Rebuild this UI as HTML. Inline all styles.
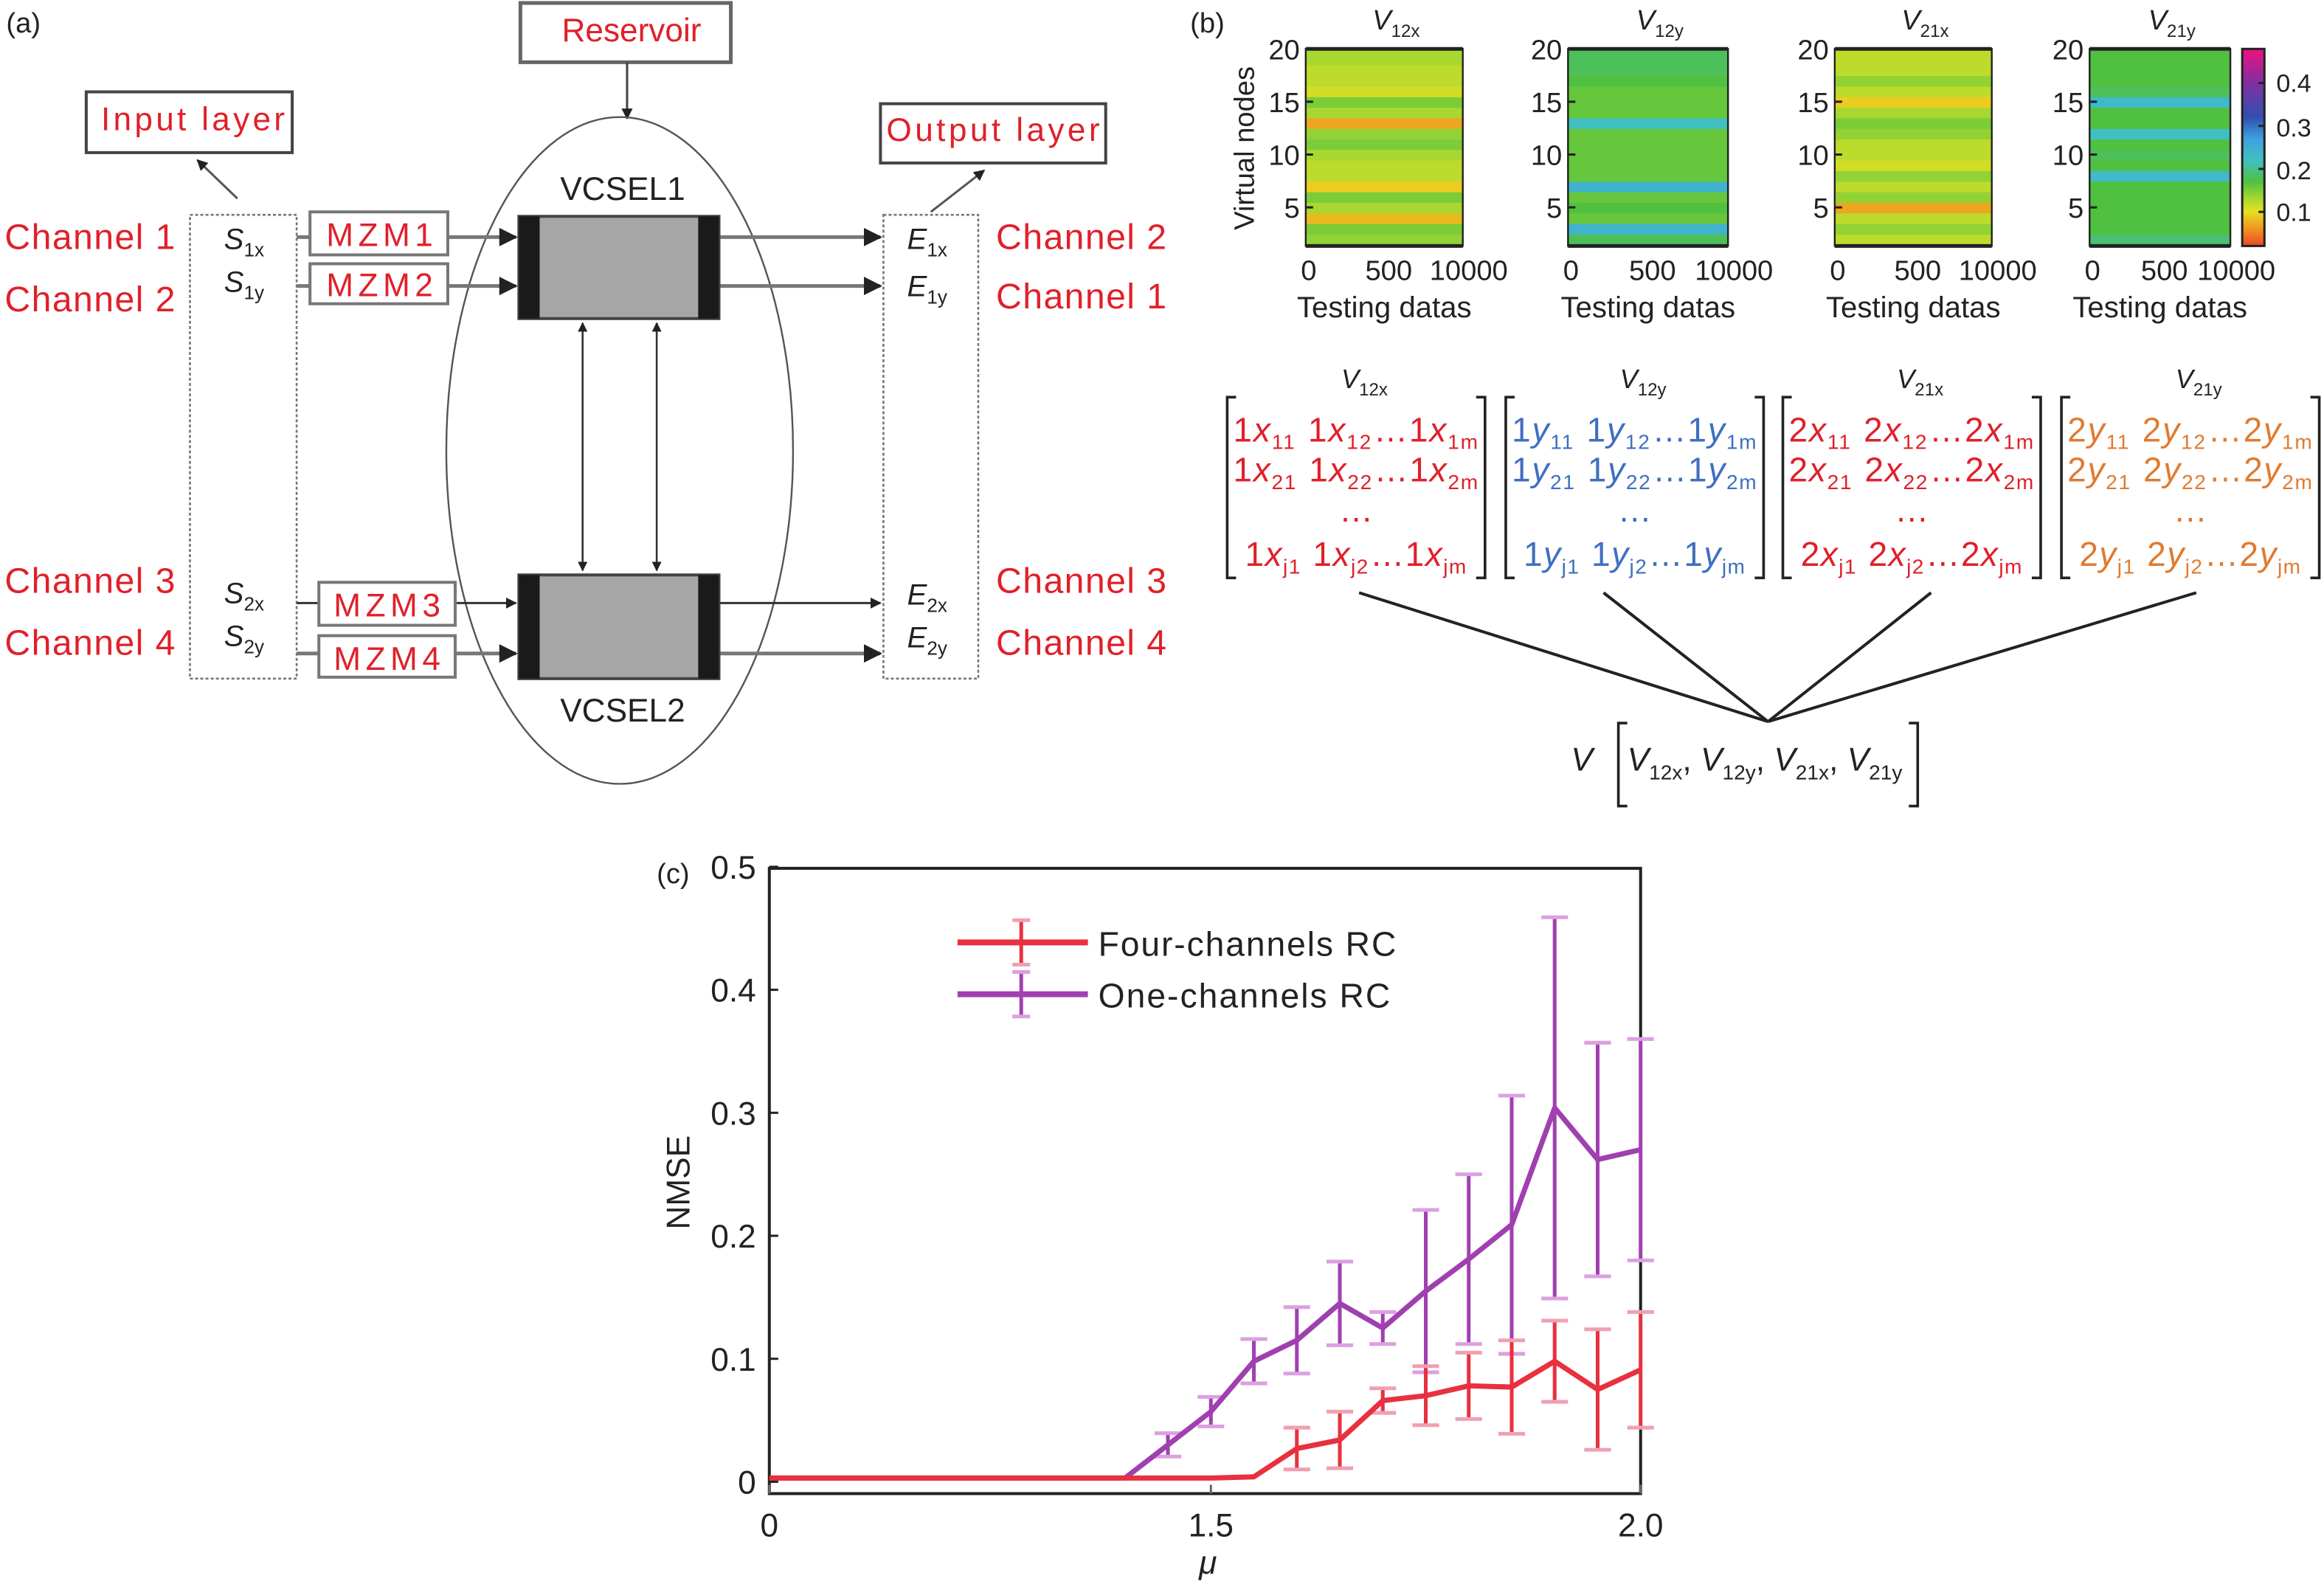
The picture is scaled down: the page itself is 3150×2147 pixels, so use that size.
<!DOCTYPE html>
<html><head><meta charset="utf-8"><style>
html,body{margin:0;padding:0;background:#fff;}
svg{display:block;font-family:"Liberation Sans",sans-serif;}
</style></head><body>
<svg id="fig" width="3150" height="2147" viewBox="0 0 1568 1069" xmlns="http://www.w3.org/2000/svg">
<defs>
<marker id="ah" viewBox="0 0 10 10" refX="9" refY="5" markerWidth="5" markerHeight="5" orient="auto-start-reverse"><path d="M0,0 L10,5 L0,10 z" fill="#222"/></marker>
</defs>
<rect width="1568" height="1069" fill="#fff"/>

<!-- (a) -->
<g id="panel-a">
<text x="4" y="22" font-size="19" fill="#222">(a)</text>
<rect x="351" y="2" width="142" height="40" fill="#fff" stroke="#666" stroke-width="2.5"/>
<text x="426" y="28" font-size="22" fill="#e0202a" text-anchor="middle">Reservoir</text>
<line x1="423" y1="42" x2="423" y2="80" stroke="#444" stroke-width="1.5" marker-end="url(#ah)"/>
<ellipse cx="418" cy="304" rx="117" ry="225" fill="none" stroke="#555" stroke-width="1.2"/>
<rect x="58" y="62" width="139" height="41" fill="#fff" stroke="#444" stroke-width="2"/>
<text x="130" y="88" font-size="22" fill="#e0202a" text-anchor="middle" textLength="124">Input layer</text>
<line x1="160" y1="134" x2="133" y2="108" stroke="#555" stroke-width="1.5" marker-end="url(#ah)"/>
<rect x="594" y="70" width="152" height="40" fill="#fff" stroke="#444" stroke-width="2"/>
<text x="670" y="95" font-size="22" fill="#e0202a" text-anchor="middle" textLength="144">Output layer</text>
<line x1="628" y1="143" x2="664" y2="115" stroke="#555" stroke-width="1.5" marker-end="url(#ah)"/>
<rect x="128" y="145" width="72" height="313" fill="none" stroke="#777" stroke-width="1.3" stroke-dasharray="2,1.5"/>
<rect x="596" y="145" width="64" height="313" fill="none" stroke="#777" stroke-width="1.3" stroke-dasharray="2,1.5"/>
<g font-size="24" fill="#e0202a">
<text x="3" y="168" textLength="115">Channel 1</text>
<text x="3" y="210" textLength="115">Channel 2</text>
<text x="3" y="400" textLength="115">Channel 3</text>
<text x="3" y="442" textLength="115">Channel 4</text>
<text x="672" y="168" textLength="115">Channel 2</text>
<text x="672" y="208" textLength="115">Channel 1</text>
<text x="672" y="400" textLength="115">Channel 3</text>
<text x="672" y="442" textLength="115">Channel 4</text>
</g>
<g font-size="20" fill="#222">
<text x="151" y="168"><tspan font-style="italic">S</tspan><tspan font-size="13" dy="5">1x</tspan></text>
<text x="151" y="197"><tspan font-style="italic">S</tspan><tspan font-size="13" dy="5">1y</tspan></text>
<text x="151" y="407"><tspan font-style="italic">S</tspan><tspan font-size="13" dy="5">2x</tspan></text>
<text x="151" y="436"><tspan font-style="italic">S</tspan><tspan font-size="13" dy="5">2y</tspan></text>
<text x="612" y="168"><tspan font-style="italic">E</tspan><tspan font-size="13" dy="5">1x</tspan></text>
<text x="612" y="200"><tspan font-style="italic">E</tspan><tspan font-size="13" dy="5">1y</tspan></text>
<text x="612" y="408"><tspan font-style="italic">E</tspan><tspan font-size="13" dy="5">2x</tspan></text>
<text x="612" y="437"><tspan font-style="italic">E</tspan><tspan font-size="13" dy="5">2y</tspan></text>
</g>
<g stroke="#777" stroke-width="2.5">
<line x1="200" y1="160" x2="348" y2="160" marker-end="url(#ah)"/>
<line x1="200" y1="193" x2="348" y2="193" marker-end="url(#ah)"/>
<line x1="200" y1="407" x2="348" y2="407" stroke="#333" stroke-width="1.5" marker-end="url(#ah)"/>
<line x1="200" y1="441" x2="348" y2="441" marker-end="url(#ah)"/>
<line x1="485" y1="160" x2="594" y2="160" marker-end="url(#ah)"/>
<line x1="485" y1="193" x2="594" y2="193" marker-end="url(#ah)"/>
<line x1="485" y1="407" x2="594" y2="407" stroke="#333" stroke-width="1.5" marker-end="url(#ah)"/>
<line x1="485" y1="441" x2="594" y2="441" marker-end="url(#ah)"/>
</g>
<g font-size="22" fill="#e0202a" text-anchor="middle">
<rect x="209" y="143" width="93" height="29" fill="#fff" stroke="#777" stroke-width="2"/>
<text x="256" y="166" textLength="72">MZM1</text>
<rect x="209" y="178" width="93" height="27" fill="#fff" stroke="#777" stroke-width="2"/>
<text x="256" y="200" textLength="72">MZM2</text>
<rect x="215" y="393" width="92" height="29" fill="#fff" stroke="#777" stroke-width="2"/>
<text x="261" y="416" textLength="72">MZM3</text>
<rect x="215" y="429" width="92" height="28" fill="#fff" stroke="#777" stroke-width="2"/>
<text x="261" y="452" textLength="72">MZM4</text>
</g>
<g>
<rect x="350" y="146" width="135" height="69" fill="#a6a6a6" stroke="#444" stroke-width="2"/>
<rect x="350" y="146" width="14" height="69" fill="#1a1a1a"/><rect x="471" y="146" width="14" height="69" fill="#1a1a1a"/>
</g>
<g>
<rect x="350" y="388" width="135" height="70" fill="#a6a6a6" stroke="#444" stroke-width="2"/>
<rect x="350" y="388" width="14" height="70" fill="#1a1a1a"/><rect x="471" y="388" width="14" height="70" fill="#1a1a1a"/>
</g>
<text x="420" y="135" font-size="22" fill="#222" text-anchor="middle">VCSEL1</text>
<text x="420" y="487" font-size="22" fill="#222" text-anchor="middle">VCSEL2</text>
<line x1="393" y1="218" x2="393" y2="385" stroke="#333" stroke-width="1.3" marker-start="url(#ah)" marker-end="url(#ah)"/>
<line x1="443" y1="218" x2="443" y2="385" stroke="#333" stroke-width="1.3" marker-start="url(#ah)" marker-end="url(#ah)"/>
</g>

<!-- (b) -->
<g id="panel-b">
<text x="803" y="22" font-size="19" fill="#222">(b)</text>
<text transform="translate(846,100) rotate(-90)" font-size="19" fill="#222" text-anchor="middle">Virtual nodes</text>
<g id="heatmaps"></g>
<g id="colorbar"></g>
<g font-size="17" fill="#222">
<text x="1536" y="62">0.4</text>
<text x="1536" y="92">0.3</text>
<text x="1536" y="121">0.2</text>
<text x="1536" y="149">0.1</text>
</g>
<g id="matrices"></g>
<g stroke="#222" stroke-width="2">
<line x1="917" y1="400" x2="1193" y2="487"/>
<line x1="1082" y1="400" x2="1193" y2="487"/>
<line x1="1303" y1="400" x2="1193" y2="487"/>
<line x1="1482" y1="400" x2="1193" y2="487"/>
</g>
<text x="1060" y="520" font-size="22" font-style="italic" fill="#222">V</text>
<path d="M1098,488 h-6 v56 h6 M1288,488 h6 v56 h-6" fill="none" stroke="#222" stroke-width="1.8"/>
<text x="1098" y="520" font-size="22" fill="#222"><tspan font-style="italic">V</tspan><tspan font-size="14" dy="6">12x</tspan><tspan dy="-6">, </tspan><tspan font-style="italic">V</tspan><tspan font-size="14" dy="6">12y</tspan><tspan dy="-6">, </tspan><tspan font-style="italic">V</tspan><tspan font-size="14" dy="6">21x</tspan><tspan dy="-6">, </tspan><tspan font-style="italic">V</tspan><tspan font-size="14" dy="6">21y</tspan></text>
</g>

<!-- (c) -->
<g id="panel-c">
<text x="443" y="596" font-size="19" fill="#222">(c)</text>
<rect x="519" y="586" width="588" height="422" fill="none" stroke="#222" stroke-width="2"/>
<g id="yticks"></g><g id="xticks"></g>
<text transform="translate(465,798) rotate(-90)" font-size="22" fill="#222" text-anchor="middle">NMSE</text>
<text x="815" y="1062" font-size="22" font-style="italic" fill="#222" text-anchor="middle">μ</text>
<g id="series"></g>
<g>
<g>
<line x1="646" y1="636" x2="734" y2="636" stroke="#e8303f" stroke-width="4"/>
<line x1="689" y1="621" x2="689" y2="651" stroke="#e8303f" stroke-width="2.5"/>
<line x1="683" y1="621" x2="695" y2="621" stroke="#f0a0b0" stroke-width="2.5"/>
<line x1="683" y1="651" x2="695" y2="651" stroke="#f0a0b0" stroke-width="2.5"/>
<text x="741" y="645" font-size="23" fill="#222" textLength="201">Four-channels RC</text>
</g>
<g>
<line x1="646" y1="671" x2="734" y2="671" stroke="#a040b0" stroke-width="4"/>
<line x1="689" y1="656" x2="689" y2="686" stroke="#a040b0" stroke-width="2.5"/>
<line x1="683" y1="656" x2="695" y2="656" stroke="#dca0e0" stroke-width="2.5"/>
<line x1="683" y1="686" x2="695" y2="686" stroke="#dca0e0" stroke-width="2.5"/>
<text x="741" y="680" font-size="23" fill="#222" textLength="197">One-channels RC</text>
</g>
</g>
</g>
</svg>
<script>
const NS = "http://www.w3.org/2000/svg";
// ---------- heatmap data (node 1..20) ----------
const heatTitles = ["12x","12y","21x","21y"];
const heatV12x = [0.12,0.14,0.15,0.08,0.13,0.15,0.09,0.12,0.12,0.13,0.15,0.14,0.07,0.13,0.15,0.11,0.12,0.12,0.13,0.13];
const heatV12y = [0.17,0.18,0.24,0.16,0.17,0.16,0.24,0.16,0.16,0.16,0.16,0.16,0.22,0.16,0.16,0.16,0.17,0.18,0.18,0.18];
const heatV21x = [0.12,0.12,0.14,0.12,0.07,0.14,0.12,0.14,0.11,0.12,0.12,0.14,0.15,0.13,0.09,0.12,0.14,0.12,0.12,0.12];
const heatV21y = [0.28,0.19,0.17,0.17,0.17,0.17,0.17,0.23,0.17,0.18,0.17,0.22,0.17,0.17,0.23,0.18,0.17,0.17,0.17,0.17];
const nodeTicks = [20,15,10,5];
const dataTicks = ["0","500","10000"];
// ---------- chart data ----------
const muFour = [0,1.2,1.4,1.45,1.5,1.55,1.6,1.65,1.7,1.75,1.8,1.85,1.9,1.95,2.0];
const nmseFour = [0.003,0.003,0.003,0.003,0.003,0.004,0.027,0.034,0.066,0.07,0.078,0.077,0.098,0.075,0.091];
const errFour = [0,0,0,0,0,0,0.017,0.023,0.01,0.024,0.027,0.038,0.033,0.049,0.047];
const muOne = [0,1.2,1.4,1.45,1.5,1.55,1.6,1.65,1.7,1.75,1.8,1.85,1.9,1.95,2.0];
const nmseOne = [0.003,0.003,0.003,0.03,0.057,0.098,0.115,0.145,0.125,0.155,0.181,0.209,0.304,0.262,0.27];
const errOne = [0,0,0,0.0095,0.012,0.018,0.027,0.034,0.013,0.066,0.069,0.105,0.155,0.095,0.09];
const yTickVals = [0,0.1,0.2,0.3,0.4,0.5];
const yTickLabels = ["0","0.1","0.2","0.3","0.4","0.5"];
const xTickVals = [0,1.5,2.0];
const xTickLabels = ["0","1.5","2.0"];

function mk(tag, attrs, parent){const e=document.createElementNS(NS,tag);for(const k in attrs)e.setAttribute(k,attrs[k]);if(parent)parent.appendChild(e);return e;}

const cmStops=[[0,[232,32,42]],[0.05,[240,128,32]],[0.1,[232,224,32]],[0.13,[168,216,48]],[0.17,[80,192,64]],[0.22,[64,192,192]],[0.27,[64,160,224]],[0.32,[48,80,176]],[0.4,[128,48,160]],[0.48,[240,16,128]]];
function cmap(v){if(v<=0)return "rgb(232,32,42)";for(let i=1;i<cmStops.length;i++){if(v<=cmStops[i][0]){const a=cmStops[i-1],b=cmStops[i],t=(v-a[0])/(b[0]-a[0]);const c=a[1].map((x,j)=>Math.round(x+(b[1][j]-x)*t));return "rgb("+c.join(",")+")";}}return "rgb(240,16,128)";}

const hm=document.getElementById("heatmaps");
const panelsX=[[881,987],[1058,1166],[1238,1344],[1410,1505]];
const heatData=[heatV12x,heatV12y,heatV21x,heatV21y];
const hTop=33,hBot=166;
function nodeY(n){return 33+(20-n)*7.13;}
heatData.forEach((arr,p)=>{
  const [x0,x1]=panelsX[p];
  const g=mk("g",{},hm);
  
  
  mk("clipPath",{id:"hc"+p},g).appendChild(mk("rect",{x:x0,y:hTop,width:x1-x0,height:hBot-hTop}));
  const cells=mk("g",{"clip-path":"url(#hc"+p+")"},g);
  arr.forEach((v,i)=>{
    const n=i+1;
    const r=mk("rect",{x:x0,y:nodeY(n+0.5),width:x1-x0,height:nodeY(n-0.5)-nodeY(n+0.5)+0.5,fill:cmap(v)},cells);
    
    
  });
  mk("rect",{x:x0,y:hTop,width:x1-x0,height:hBot-hTop,fill:"none",stroke:"#222","stroke-width":1.2},g);
  mk("line",{x1:x0,y1:hTop,x2:x1,y2:hTop,stroke:"#222","stroke-width":2.5},g);
  mk("line",{x1:x0,y1:hBot,x2:x1,y2:hBot,stroke:"#222","stroke-width":2.5},g);
  nodeTicks.forEach(t=>{
    const y=nodeY(t);
    if(t!==20) mk("line",{x1:x0,y1:y,x2:x0+5,y2:y,stroke:"#222","stroke-width":1.5},g);
    const tx=mk("text",{x:x0-4,y:y+7,"font-size":19,"text-anchor":"end",fill:"#222"},g);
    tx.textContent=String(t);
    
    
  });
  const xs=[x0+2,(x0+x1)/2+3,x1+4];
  dataTicks.forEach((t,k)=>{
    const tx=mk("text",{x:xs[k],y:189,"font-size":19,"text-anchor":"middle",fill:"#222"},g);
    tx.textContent=t;
    
    
  });
  const xl=mk("text",{x:(x0+x1)/2,y:214,"font-size":20,"text-anchor":"middle",fill:"#222"},g);
  xl.textContent="Testing datas";
  
  
  const tt=mk("text",{x:(x0+x1)/2-8,y:20,"font-size":19,"font-style":"italic",fill:"#222"},g);
  tt.textContent="V";
  
  
  const ts=mk("tspan",{"font-size":12,dy:5,"font-style":"normal"},tt);ts.textContent=heatTitles[p];
});
const cb=document.getElementById("colorbar");


for(let y=33;y<166;y+=1){const v=0.1+(143-y-0.5)/290;mk("rect",{x:1513,y:y,width:15,height:1.2,fill:cmap(v)},cb);}
mk("rect",{x:1513,y:33,width:15,height:133,fill:"none",stroke:"#222","stroke-width":1.5},cb);
[0.1,0.2,0.3,0.4].forEach(v=>{const y=143-(v-0.1)*290;mk("line",{x1:1524,y1:y,x2:1528,y2:y,stroke:"#222","stroke-width":1.5},cb);});

const mg=document.getElementById("matrices");
const mats=[{x:828,w:174,p:"1",s:"x",c:"#e0202a",t:"12x"},{x:1016,w:174,p:"1",s:"y",c:"#3f6fc0",t:"12y"},{x:1203,w:174,p:"2",s:"x",c:"#e0202a",t:"21x"},{x:1391,w:174,p:"2",s:"y",c:"#e07b30",t:"21y"}];
const rowsSub=[["11","12","1m"],["21","22","2m"],null,["j1","j2","jm"]];
const rowsY=[298,325,352,382];
mats.forEach((m,k)=>{
  const g=mk("g",{},mg);
  
  
  mk("path",{d:`M${m.x+6},268 h-6 v122 h6 M${m.x+m.w-6},268 h6 v122 h-6`,fill:"none",stroke:"#222","stroke-width":1.8},g);
  const tt=mk("text",{x:m.x+m.w/2-10,y:262,"font-size":18,"font-style":"italic",fill:"#222"},g);
  tt.textContent="V";
  const ts=mk("tspan",{"font-size":12,dy:5,"font-style":"normal"},tt);ts.textContent=m.t;
  rowsSub.forEach((r,i)=>{
    const attrs={x:m.x+m.w/2,y:rowsY[i],"font-size":23,"text-anchor":"middle",fill:m.c};
    if(r) attrs.textLength = i===3 ? 150 : 166;
    const tx=mk("text",attrs,g);
    if(!r){tx.textContent="…";return;}
    r.forEach((sub,j)=>{
      const a=mk("tspan",{},tx);a.textContent=(j==0?"":(j==1?" ":"…"))+m.p;
      const b=mk("tspan",{"font-style":"italic"},tx);b.textContent=m.s;
      const c=mk("tspan",{"font-size":14,dy:5},tx);c.textContent=sub;
      const d=mk("tspan",{dy:-5,"font-size":1},tx);d.textContent="\u200b";
    });
  });
});

function xS(mu){return mu<=1.4?519+mu/1.4*240:759+(mu-1.4)*580;}
function yS(v){return 1000-v*830;}
const yt=document.getElementById("yticks");
yTickVals.forEach((v,i)=>{
  const y=yS(v);
  mk("line",{x1:519,y1:y,x2:525,y2:y,stroke:"#222","stroke-width":1.5},yt);
  const tx=mk("text",{x:510,y:y+8,"font-size":22,"text-anchor":"end",fill:"#222"},yt);
  tx.textContent=yTickLabels[i];
  
  
});
const xt=document.getElementById("xticks");
xTickVals.forEach((v,i)=>{
  const x=xS(v);
  mk("line",{x1:x,y1:1008,x2:x,y2:1002,stroke:"#666","stroke-width":1.5},xt);
  const tx=mk("text",{x:x,y:1037,"font-size":22,"text-anchor":"middle",fill:"#222"},xt);
  tx.textContent=xTickLabels[i];
  
  
});
const sg=document.getElementById("series");
function drawSeries(mu,val,err,col,cap,name){
  const g=mk("g",{},sg);
  
  
  mu.forEach((m,i)=>{
    if(err[i]<=0)return;
    const x=xS(m),y1=yS(val[i]-err[i]),y2=yS(val[i]+err[i]);
    const l=mk("line",{x1:x,y1:y1,x2:x,y2:y2,stroke:col,"stroke-width":2.5},g);
    
    
    mk("line",{x1:x-9,y1:y1,x2:x+9,y2:y1,stroke:cap,"stroke-width":2.5},g);
    mk("line",{x1:x-9,y1:y2,x2:x+9,y2:y2,stroke:cap,"stroke-width":2.5},g);
  });
  const p=mk("polyline",{points:mu.map((m,i)=>xS(m)+","+yS(val[i])).join(" "),fill:"none",stroke:col,"stroke-width":3.5,"stroke-linejoin":"round"},g);
  
  
}
drawSeries(muOne,nmseOne,errOne,"#a040b0","#dca0e0","one-channels-series");
drawSeries(muFour,nmseFour,errFour,"#e8303f","#f0a0b0","four-channels-series");
</script>
</body></html>
